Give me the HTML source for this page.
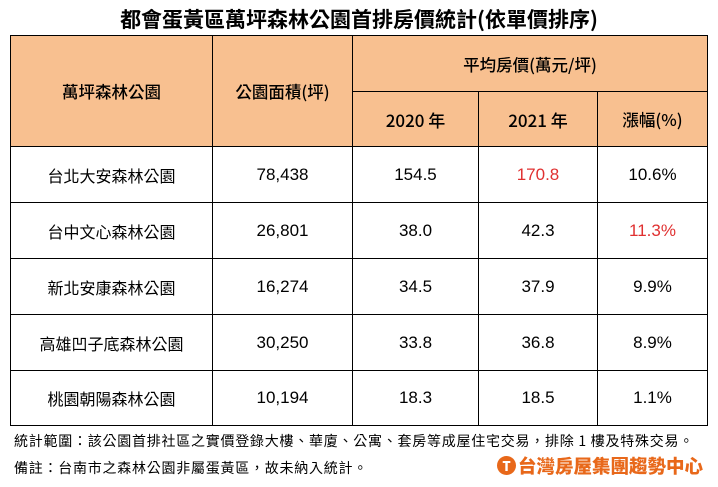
<!DOCTYPE html>
<html><head><meta charset="utf-8"><style>
body{margin:0;width:718px;height:487px;background:#fff;position:relative;overflow:hidden;font-family:"Liberation Sans","Noto Sans CJK TC",sans-serif;color:#000}
.title{position:absolute;left:0;width:718px;top:4px;text-align:center;font-size:21px;font-weight:bold;font-family:"Noto Sans CJK TC",sans-serif}
table{position:absolute;left:10px;top:35px;border-collapse:collapse;font-size:17px}
td{border:1.5px solid #000;text-align:center;padding:0}
.h{background:#f8c090;font-family:"Noto Sans CJK TC",sans-serif;font-size:16.5px;font-weight:500}
.n{font-family:"Noto Sans CJK TC",sans-serif;font-size:16px;background:#fff}
.red{color:#e03030}
.f{position:absolute;left:14px;font-size:14px;letter-spacing:0.75px;font-family:"Noto Sans CJK TC",sans-serif}
.logo{position:absolute;left:497px;top:453px;font-size:18.5px;font-weight:900;color:#e8681a;font-family:"Noto Sans CJK TC",sans-serif}
.logo span{display:inline-block;width:19px;height:19px;border-radius:50%;background:#e8681a;color:#fff;font-size:13px;text-align:center;line-height:19px;vertical-align:2px;margin-right:2px}
</style></head><body>
<div class="title">都會蛋黃區萬坪森林公園首排房價統計(依單價排序)</div>
<table>
<colgroup><col style="width:202px"><col style="width:140px"><col style="width:126px"><col style="width:119px"><col style="width:110px"></colgroup>
<tr style="height:56px"><td class="h" rowspan="2">萬坪森林公園</td><td class="h" rowspan="2">公園面積(坪)</td><td class="h" colspan="3">平均房價(萬元/坪)</td></tr>
<tr style="height:55px"><td class="h" style="font-size:17px">2020 年</td><td class="h" style="font-size:17px">2021 年</td><td class="h">漲幅(%)</td></tr>
<tr style="height:56px"><td class="n">台北大安森林公園</td><td>78,438</td><td>154.5</td><td class="red">170.8</td><td>10.6%</td></tr>
<tr style="height:56px"><td class="n">台中文心森林公園</td><td>26,801</td><td>38.0</td><td>42.3</td><td class="red">11.3%</td></tr>
<tr style="height:56px"><td class="n">新北安康森林公園</td><td>16,274</td><td>34.5</td><td>37.9</td><td>9.9%</td></tr>
<tr style="height:56px"><td class="n">高雄凹子底森林公園</td><td>30,250</td><td>33.8</td><td>36.8</td><td>8.9%</td></tr>
<tr style="height:55px"><td class="n">桃園朝陽森林公園</td><td>10,194</td><td>18.3</td><td>18.5</td><td>1.1%</td></tr>
</table>
<div class="f" style="top:431px">統計範圍：該公園首排社區之實價登錄大樓、華廈、公寓、套房等成屋住宅交易，排除 1 樓及特殊交易。</div>
<div class="f" style="top:458px">備註：台南市之森林公園非屬蛋黃區，故未納入統計。</div>
<div class="logo"><span>T</span>台灣房屋集團趨勢中心</div>
</body></html>
